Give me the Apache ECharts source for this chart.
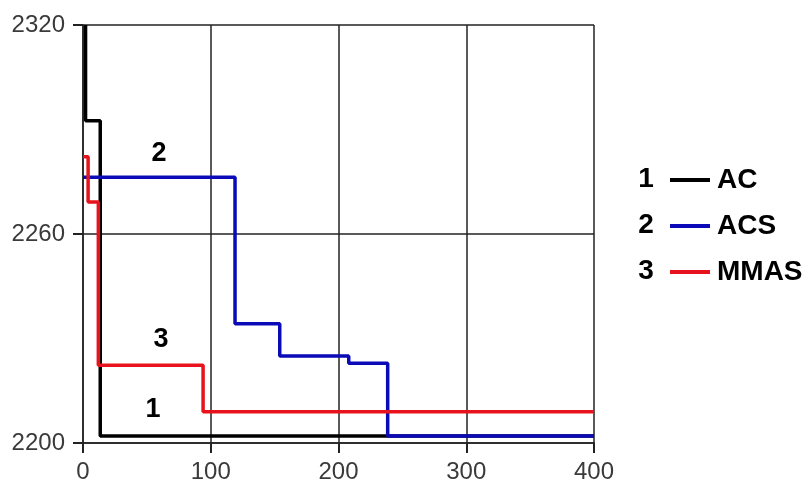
<!DOCTYPE html>
<html>
<head>
<meta charset="utf-8">
<script src="https://cdn.jsdelivr.net/npm/echarts@6/dist/echarts.min.js"></script>
<style>
  html, body { margin: 0; padding: 0; background: #fff; }
  #chart { width: 811px; height: 486px; }
</style>
</head>
<body>
<div id="chart"></div>
<script>
// Best tour length per iteration for three ant-colony variants (step curves).
const seriesNames = ['AC', 'ACS', 'MMAS'];
const seriesNumbers = ['1', '2', '3'];
const seriesColors = ['#000000', '#0a0ab8', '#e8121c'];

// [iteration, length] at each change point; the value holds until the next point
const acValues = [[2, 2320], [2, 2292.5], [13.5, 2202], [400, 2202]];
const acsValues = [[0, 2276.3], [119, 2234.2], [154, 2225], [208, 2222.9], [238.5, 2202], [400, 2202]];
const mmasValues = [[0, 2282.2], [4, 2269.2], [12, 2222.3], [94, 2209], [400, 2209]];

// curve number tags placed inside the plot: [iteration, length]
const tagPositions = [[54.8, 2209.7], [59.5, 2283.2], [61, 2229.8]];

const xTickValues = [0, 100, 200, 300, 400];
const yTickValues = [2200, 2260, 2320];

const allValues = [acValues, acsValues, mmasValues];

const chart = echarts.init(document.getElementById('chart'));

const gridColor = '#222';
const labelFont = 'Liberation Sans, Arial, sans-serif';
const tickStyle = { show: true, length: 10, lineStyle: { color: gridColor, width: 2 } };

const series = seriesNames.map((name, i) => ({
  name: name,
  type: 'line',
  step: 'end',
  data: allValues[i],
  symbol: 'none',
  color: seriesColors[i],
  lineStyle: { width: 3.5, color: seriesColors[i] },
  z: 3 + i,
  markPoint: {
    symbol: 'circle',
    symbolSize: 0,
    silent: true,
    label: {
      show: true,
      position: 'inside',
      formatter: seriesNumbers[i],
      color: '#000',
      fontSize: 27,
      fontWeight: 'bold',
      fontFamily: labelFont
    },
    data: [{ coord: tagPositions[i], value: seriesNumbers[i] }]
  }
}));

// legend rows: first row centre and spacing
const legendTop = 179;
const legendStep = 46;

// Legend row numbers in front of each line swatch.
const legendNumbers = seriesNumbers.map((n, i) => ({
  type: 'text',
  x: 646,
  y: legendTop + i * legendStep,
  style: {
    text: n,
    fontSize: 28,
    fontWeight: 'bold',
    fontFamily: labelFont,
    fill: '#000',
    align: 'center',
    verticalAlign: 'middle'
  }
}));

chart.setOption({
  backgroundColor: '#ffffff',
  animation: false,
  grid: { left: 83, right: 217, top: 25, bottom: 43 },
  xAxis: {
    type: 'value',
    min: xTickValues[0],
    max: xTickValues[xTickValues.length - 1],
    interval: xTickValues[1] - xTickValues[0],
    axisLine: { show: true, onZero: false, lineStyle: { color: gridColor, width: 1.5 } },
    axisTick: tickStyle,
    axisLabel: { margin: 17, fontSize: 24, color: '#3a3a3a', fontFamily: labelFont },
    splitLine: { show: true, lineStyle: { color: gridColor, width: 1.5 } }
  },
  yAxis: {
    type: 'value',
    min: yTickValues[0],
    max: yTickValues[yTickValues.length - 1],
    interval: yTickValues[1] - yTickValues[0],
    axisLine: { show: true, onZero: false, lineStyle: { color: gridColor, width: 1.5 } },
    axisTick: tickStyle,
    axisLabel: {
      margin: 18, fontSize: 24, color: '#3a3a3a', fontFamily: labelFont,
      formatter: (v) => String(v)
    },
    splitLine: { show: true, lineStyle: { color: gridColor, width: 1.5 } }
  },
  legend: {
    orient: 'vertical',
    left: 665,
    top: legendTop - 19,
    icon: 'rect',
    itemWidth: 40,
    itemHeight: 4,
    itemGap: legendStep - 30,
    selectedMode: false,
    data: seriesNames,
    textStyle: {
      fontSize: 28,
      lineHeight: 30,
      fontWeight: 'bold',
      color: '#000',
      fontFamily: labelFont,
      padding: [0, 0, 0, 2]
    }
  },
  graphic: legendNumbers,
  series: series
});
</script>
</body>
</html>
